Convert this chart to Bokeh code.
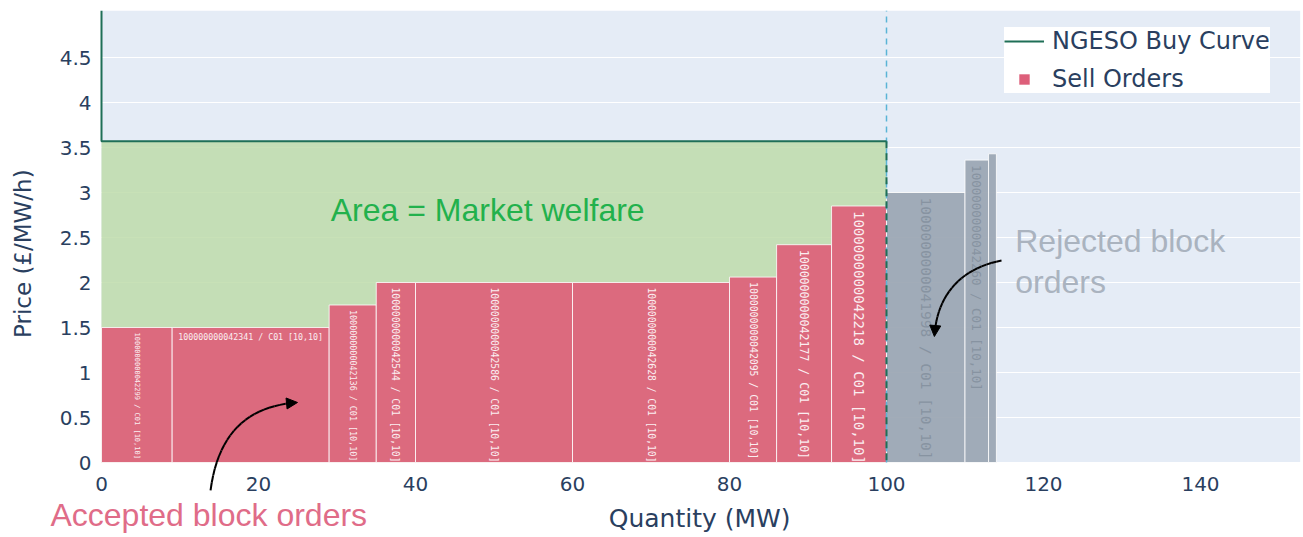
import numpy as np
from bokeh.plotting import figure
from bokeh.models import (ColumnDataSource, Label, Legend, LegendItem,
                          FixedTicker, Arrow, NormalHead)
from bokeh.core.properties import value
from bokeh.embed import file_html
from bokeh.resources import INLINE

# ---------------- data ----------------
order_ids = ["1000000000042299", "100000000042341", "1000000000042136",
             "1000000000042544", "1000000000042586", "1000000000042628",
             "1000000000042095", "1000000000042177", "1000000000042218",
             "1000000000041998", "1000000000042260", "1000000000042302"]
order_suffix = " / C01 [10,10]"
quantities = [9, 20, 6, 5, 20, 20, 6, 7, 7, 10, 3, 1]
prices = [1.5, 1.5, 1.75, 2.0, 2.0, 2.0, 2.06, 2.42, 2.85, 3.0, 3.36, 3.43]
accepted = [True] * 9 + [False] * 3

buy_quantity = [0, 0, 100, 100]
buy_price = [6.0, 3.57, 3.57, 0.0]
cleared_quantity = 100

x_ticks = [0, 20, 40, 60, 80, 100, 120, 140]
y_ticks = [0, 0.5, 1, 1.5, 2, 2.5, 3, 3.5, 4, 4.5]
y_tick_labels = ["0", "0.5", "1", "1.5", "2", "2.5", "3", "3.5", "4", "4.5"]

# axis extents of the plotting area
X_MAX = 152.7
Y_MAX = 5.02

# styles (not data)
label_sizes = [7, 8.3, 8.4, 9.7, 9.7, 9.7, 9.8, 11.6, 14, 14.5, 12.5, 0]
label_rotated = [True, False, True, True, True, True, True, True, True, True, True, True]

PINK = "#dd5f7a"
GREY = "#9aa5b2"
GREEN_FILL = "#bedcaa"
BUY = "#1f6f57"
FONT = "DejaVu Sans"
ANN_FONT = "Liberation Sans"
AXIS_COL = "#2a3f5f"

# screen geometry: the whole figure is the frame; axes sit at the data origin
PX_X = 7.85   # px per MW
PX_Y = 90.0   # px per £/MW/h
ORIGIN = (101, 462)
W, H = 1303, 537

# ---------------- derived ----------------
right = np.cumsum(quantities)
left = right - np.array(quantities)
colors = [PINK if a else GREY for a in accepted]

p = figure(width=W, height=H,
           x_range=(-ORIGIN[0] / PX_X, (W - ORIGIN[0]) / PX_X),
           y_range=(-(H - ORIGIN[1]) / PX_Y, ORIGIN[1] / PX_Y),
           output_backend="svg", toolbar_location=None,
           min_border_left=0, min_border_right=0, min_border_top=0, min_border_bottom=0,
           background_fill_color="white", border_fill_color="white",
           outline_line_color=None)

# plot area background
p.quad(left=[0], right=[X_MAX], bottom=[0], top=[Y_MAX], fill_color="#e5ecf6",
       line_color=None, level="image")

# welfare area (0..cleared, 0..buy price)
p.quad(left=[buy_quantity[0]], right=[buy_quantity[2]], bottom=[0], top=[buy_price[1]],
       fill_color=GREEN_FILL, fill_alpha=0.85, line_color=None)

bars = ColumnDataSource(dict(left=left, right=right, top=prices, bottom=[0] * len(prices),
                             color=colors))
p.quad(left="left", right="right", bottom="bottom", top="top", source=bars,
       fill_color="color", fill_alpha=0.92, line_color="white", line_width=1, line_alpha=0.8)

# bar labels
rot = dict(x=[], y=[], text=[], fs=[], col=[])
hor = dict(x=[], y=[], text=[], fs=[], col=[])
for i in range(len(order_ids)):
    if label_sizes[i] <= 0:
        continue
    d = rot if label_rotated[i] else hor
    d["x"].append((left[i] + right[i]) / 2)
    d["y"].append(prices[i])
    d["text"].append(order_ids[i] + order_suffix)
    d["fs"].append(f"{label_sizes[i]}px")
    d["col"].append("#fbeef1" if accepted[i] else "#8793a1")
p.text(x="x", y="y", text="text", source=ColumnDataSource(rot), angle=-np.pi / 2,
       text_align="left", text_baseline="middle", y_offset=5,
       text_font=value("DejaVu Sans Mono"), text_font_size="fs", text_color="col")
p.text(x="x", y="y", text="text", source=ColumnDataSource(hor), angle=0,
       text_align="center", text_baseline="top", y_offset=4,
       text_font=value("DejaVu Sans Mono"), text_font_size="fs", text_color="col")

# cleared quantity line
p.segment(x0=[cleared_quantity], y0=[0], x1=[cleared_quantity], y1=[Y_MAX],
          line_color="#5ab4d6", line_width=1.5, line_dash="6 5")

# buy curve (clipped to the plotting area)
buy_clip = [min(v, Y_MAX) for v in buy_price]
buy_line = p.line(buy_quantity[:3], buy_clip[:3], line_color=BUY, line_width=2)
p.line(buy_quantity[2:], buy_clip[2:], line_color=BUY, line_width=2, line_dash="7 5")

# legend proxy for sell orders (no visible point)
sell_proxy = p.scatter(x=[np.nan], y=[np.nan], marker="square", size=14,
                       fill_color=PINK, line_color=None)

legend = Legend(items=[LegendItem(label="NGESO Buy Curve", renderers=[buy_line]),
                       LegendItem(label="Sell Orders", renderers=[sell_proxy])],
                location=(1004, H - 93), label_text_font=FONT, label_text_font_size="24px",
                label_text_color=AXIS_COL, glyph_width=40, glyph_height=26,
                label_standoff=8, spacing=10, padding=12,
                background_fill_color="white", background_fill_alpha=1,
                border_line_color=None)
p.add_layout(legend)

# axis titles
p.add_layout(Label(x=-10.06, y=2.32, text="Price (£/MW/h)", angle=np.pi / 2,
                   text_align="center", text_baseline="middle", text_color=AXIS_COL,
                   text_font=FONT, text_font_size="23px"))
p.add_layout(Label(x=76.2, y=-0.62, text="Quantity (MW)",
                   text_align="center", text_baseline="middle", text_color=AXIS_COL,
                   text_font=FONT, text_font_size="25px"))

# annotations (y = vertical centre of the text)
p.add_layout(Label(x=29.2, y=2.81, text="Area = Market welfare", text_color="#22b14c",
                   text_font=ANN_FONT, text_font_size="32px", text_baseline="middle"))
p.add_layout(Label(x=116.4, y=2.456, text="Rejected block", text_color="#aab3bf",
                   text_font=ANN_FONT, text_font_size="32px", text_baseline="middle"))
p.add_layout(Label(x=116.4, y=2.011, text="orders", text_color="#aab3bf",
                   text_font=ANN_FONT, text_font_size="32px", text_baseline="middle"))
p.add_layout(Label(x=-6.5, y=-0.578, text="Accepted block orders", text_color="#e06c88",
                   text_font=ANN_FONT, text_font_size="32px", text_baseline="middle"))


def curved_arrow(pts, n=24):
    P = np.array(pts, dtype=float)
    t = np.linspace(0, 1, n)[:, None]
    B = ((1 - t) ** 3) * P[0] + 3 * ((1 - t) ** 2) * t * P[1] + 3 * (1 - t) * t ** 2 * P[2] + t ** 3 * P[3]
    for k in range(n - 1):
        last = k == n - 2
        p.add_layout(Arrow(x_start=B[k, 0], y_start=B[k, 1], x_end=B[k + 1, 0], y_end=B[k + 1, 1],
                           line_color="black", line_width=2,
                           end=NormalHead(size=11, fill_color="black", line_color="black") if last else None))


accepted_arrow = [(13.89, -0.31), (14.9, 0.36), (18.98, 0.63), (24.97, 0.667)]
rejected_arrow = [(114.65, 2.244), (109.4, 2.156), (106.4, 1.856), (106.1, 1.40)]
curved_arrow(accepted_arrow)
curved_arrow(rejected_arrow)

# axes at the data origin
xt = FixedTicker(ticks=x_ticks)
yt = FixedTicker(ticks=y_ticks)
p.xgrid.visible = False
p.ygrid.ticker = yt
p.ygrid.grid_line_color = "white"
p.ygrid.grid_line_width = 1
p.xaxis.ticker = xt
p.yaxis.ticker = yt
p.xaxis.fixed_location = 0
p.yaxis.fixed_location = 0
p.yaxis.major_label_overrides = {t: s for t, s in zip(y_ticks, y_tick_labels)}
for ax in (p.xaxis[0], p.yaxis[0]):
    ax.axis_line_color = None
    ax.major_tick_line_color = None
    ax.minor_tick_line_color = None
    ax.major_label_text_font = FONT
    ax.major_label_text_font_size = "20px"
    ax.major_label_text_color = AXIS_COL
p.xaxis.major_label_standoff = 8
p.yaxis.major_label_standoff = 4

open("out.html", "w").write(file_html(p, INLINE))
